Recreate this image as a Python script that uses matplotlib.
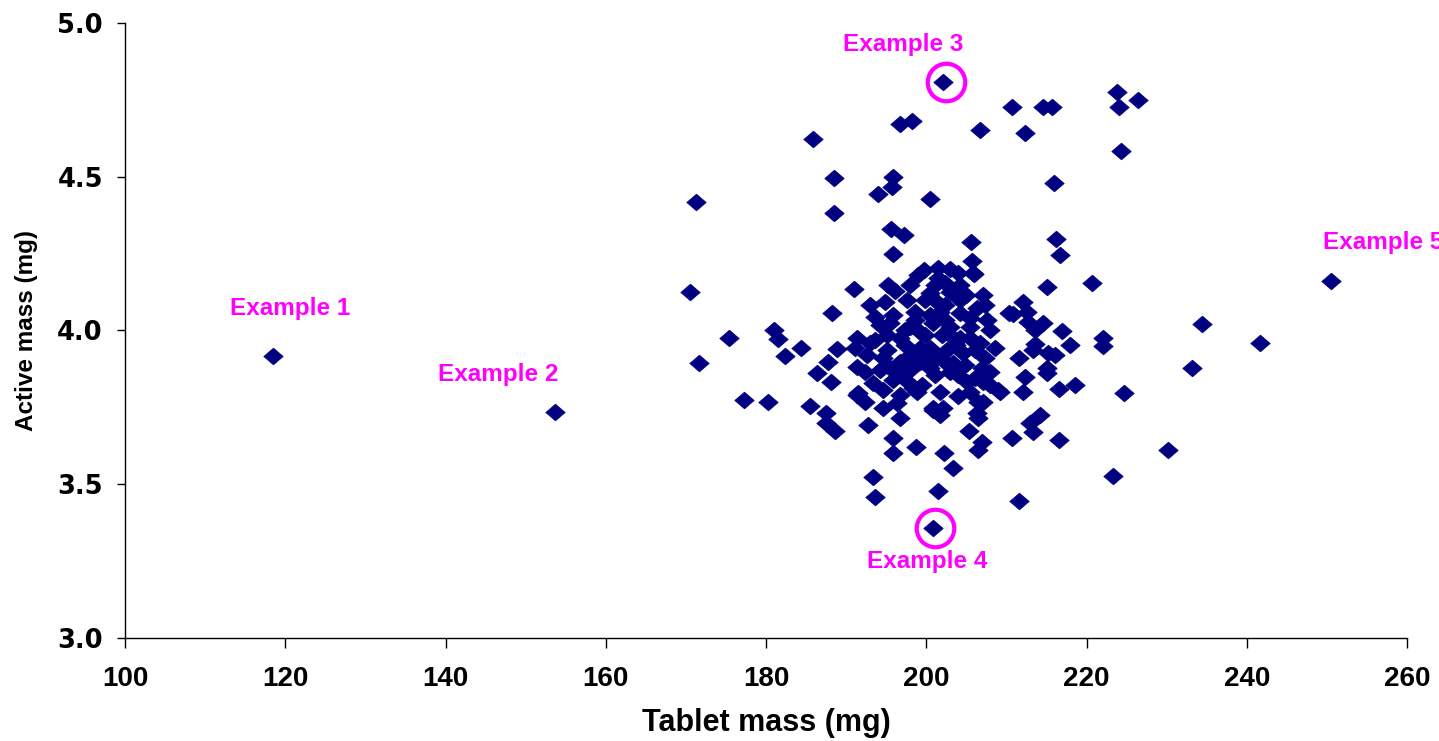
import matplotlib.pyplot as plt
import numpy as np
from matplotlib.path import Path

# Tablet mass vs active mass for individual tablets (mg)
tablet_mass = [
    # flagged tablets
    118.5, 153.7, 202.1, 200.8, 250.5,
    # upper band
    223.8, 226.4, 224.1, 210.7, 214.6, 215.7, 196.7, 198.2, 206.7, 212.3,
    185.9, 224.3, 195.8, 195.7, 194.0, 188.5, 215.9, 200.5, 171.3, 188.5,
    195.6, 197.2, 216.2, 205.6, 195.8, 216.7, 205.7, 206.0, 220.7, 215.1,
    191.0, 170.5,
    # low-mass side
    175.4, 171.6, 177.3, 180.2, 181.0, 181.5, 184.4, 182.4, 185.5, 186.4,
    187.5, 187.5, 188.6, 187.7, 188.1, 188.2, 188.9,
    # high-mass side
    212.1, 210.8, 212.6, 212.7, 214.6, 213.6, 216.9, 222.1, 222.1, 217.9,
    213.6, 213.3, 215.2, 216.1, 211.6, 215.1, 212.3, 215.1, 212.1, 216.6,
    218.6, 209.2, 214.2, 212.9, 213.3, 210.7, 216.6, 224.7, 230.2, 223.3,
    211.6, 241.7, 234.4, 233.2, 210.3,
    # lower band
    192.7, 195.8, 195.8, 198.7, 202.2, 203.3, 206.5, 206.5, 205.3, 207.0,
    206.5, 204.0, 192.4, 191.5, 194.6, 196.7, 200.8, 201.7, 193.4, 193.6,
    201.5,
    # main cluster
    199.7, 201.5, 203.0, 204.0, 205.8, 201.5, 198.0, 196.1, 200.5, 203.0,
    204.9, 207.1, 194.9, 197.6, 201.3, 206.3, 193.6, 195.8, 198.6, 201.7,
    204.2, 207.6, 195.5, 198.0, 200.8, 203.0, 205.4, 191.4, 193.0, 195.1,
    196.7, 199.2, 202.0, 204.2, 206.7, 191.1, 192.6, 195.1, 200.5, 202.6,
    204.6, 194.6, 196.7, 199.2, 201.3, 203.3, 191.4, 192.4, 195.5, 198.0,
    200.5, 203.0, 207.0, 208.0, 193.4, 195.8, 197.7, 199.5, 205.1, 207.1,
    209.0, 191.4, 194.6, 196.7, 198.8, 207.1, 196.3, 200.8, 202.1, 206.3,
    199.0, 202.3, 204.2, 199.8, 202.3, 207.3, 198.6, 200.5, 202.3, 205.5,
    208.0, 197.3, 199.8, 203.0, 205.4, 197.3, 199.2, 203.7, 206.1, 208.6,
    193.6, 194.2, 198.0, 199.8, 202.3, 204.8, 207.3, 194.2, 196.7, 201.1,
    204.0, 206.1, 198.3, 201.7, 205.5, 208.0, 193.0, 195.2, 204.2, 201.1,
]
active_mass = [
    3.917, 3.735, 4.808, 3.358, 4.161,
    4.776, 4.750, 4.727, 4.727, 4.727, 4.727, 4.672, 4.681, 4.652, 4.642,
    4.623, 4.584, 4.499, 4.467, 4.444, 4.496, 4.480, 4.428, 4.418, 4.382,
    4.330, 4.311, 4.298, 4.288, 4.249, 4.246, 4.226, 4.184, 4.154, 4.141,
    4.135, 4.125,
    3.976, 3.894, 3.774, 3.767, 4.002, 3.972, 3.943, 3.917, 3.754, 3.862,
    3.732, 3.699, 3.673, 3.898, 3.833, 4.057, 3.940,
    4.093, 4.054, 4.060, 4.028, 4.024, 4.002, 3.998, 3.976, 3.950, 3.953,
    3.956, 3.937, 3.927, 3.920, 3.911, 3.878, 3.849, 3.862, 3.800, 3.810,
    3.823, 3.800, 3.725, 3.699, 3.670, 3.650, 3.644, 3.797, 3.611, 3.527,
    3.446, 3.959, 4.021, 3.878, 4.057,
    3.693, 3.650, 3.602, 3.621, 3.602, 3.553, 3.767, 3.715, 3.673, 3.637,
    3.611, 3.787, 3.767, 3.797, 3.748, 3.715, 3.741, 3.725, 3.523, 3.459,
    3.478,
    4.197, 4.203, 4.200, 4.187, 4.187, 4.171, 4.148, 4.128, 4.122, 4.125,
    4.115, 4.115, 4.093, 4.099, 4.093, 4.073, 4.044, 4.050, 4.060, 4.060,
    4.057, 4.034, 4.024, 4.011, 4.024, 4.011, 4.011, 3.976, 3.959, 3.985,
    3.976, 3.995, 3.985, 3.976, 3.959, 3.943, 3.920, 3.937, 3.943, 3.937,
    3.927, 3.911, 3.898, 3.898, 3.911, 3.894, 3.881, 3.865, 3.878, 3.872,
    3.878, 3.865, 3.878, 3.865, 3.829, 3.839, 3.833, 3.823, 3.833, 3.833,
    3.807, 3.790, 3.807, 3.790, 3.800, 3.767, 3.764, 3.748, 3.748, 3.732,
    4.181, 4.154, 4.148, 4.099, 4.083, 4.083, 4.034, 4.050, 4.034, 4.041,
    4.002, 4.002, 3.985, 3.985, 3.976, 3.953, 3.943, 3.953, 3.937, 3.943,
    3.969, 4.018, 3.920, 3.904, 3.898, 3.888, 3.911, 3.872, 3.855, 3.855,
    3.855, 3.846, 3.813, 3.800, 3.800, 3.823, 4.083, 4.148, 4.099, 4.148,
]

# labelled examples: index into the arrays above, text offset in points
examples = ['Example 1', 'Example 2', 'Example 3', 'Example 4', 'Example 5']
example_offsets = [(12, 34), (-41, 27), (-29, 27), (-4, -24), (-6, 28)]
example_align = ['center', 'center', 'center', 'center', 'left']
circled = [2, 3]

navy = '#000080'
magenta = '#FF00FF'

# slightly flattened diamond, like the spreadsheet marker
diamond = Path([(-1, 0), (0, 0.86), (1, 0), (0, -0.86), (-1, 0)],
               [Path.MOVETO, Path.LINETO, Path.LINETO, Path.LINETO, Path.CLOSEPOLY])

fig = plt.figure(figsize=(14.39, 7.41), dpi=100)
ax = fig.add_axes([0.0869, 0.139, 0.8909, 0.830])

ax.plot(tablet_mass, active_mass, linestyle='none', marker=diamond,
        markersize=14, color=navy, markeredgewidth=0.5)

for i in circled:
    ax.plot(tablet_mass[i] + 0.3, active_mass[i], marker='o', markersize=27,
            markerfacecolor='none', markeredgecolor=magenta, markeredgewidth=3,
            clip_on=False)

for i, name in enumerate(examples):
    ax.annotate(name, (tablet_mass[i], active_mass[i]), xytext=example_offsets[i],
                textcoords='offset points', ha=example_align[i], va='center',
                color=magenta, fontsize=17.5, fontweight='bold',
                family='Liberation Sans', annotation_clip=False)

ax.set_xlim(100, 260)
ax.set_ylim(3.0, 5.0)
ax.set_xticks(np.arange(100, 261, 20))
ax.set_yticks(np.arange(3.0, 5.01, 0.5))
ax.set_yticklabels(['%.1f' % v for v in np.arange(3.0, 5.01, 0.5)])

for side in ['top', 'right']:
    ax.spines[side].set_visible(False)
for side in ['left', 'bottom']:
    ax.spines[side].set_linewidth(1.0)
    ax.spines[side].set_color('black')

ax.tick_params(axis='x', direction='out', length=7, width=1, pad=13)
ax.tick_params(axis='y', direction='out', length=6, width=1, pad=10)
for lab in ax.get_xticklabels():
    lab.set_family('Liberation Sans')
    lab.set_fontweight('bold')
    lab.set_fontsize(20)
for lab in ax.get_yticklabels():
    lab.set_family('DejaVu Sans')
    lab.set_fontweight('bold')
    lab.set_fontsize(18.5)

ax.set_xlabel('Tablet mass (mg)', family='Liberation Sans', fontweight='bold',
              fontsize=22, labelpad=12)
ax.set_ylabel('Active mass (mg)', family='Liberation Sans', fontweight='bold',
              fontsize=17.5, labelpad=14)

fig.savefig('out.png', dpi=100)
